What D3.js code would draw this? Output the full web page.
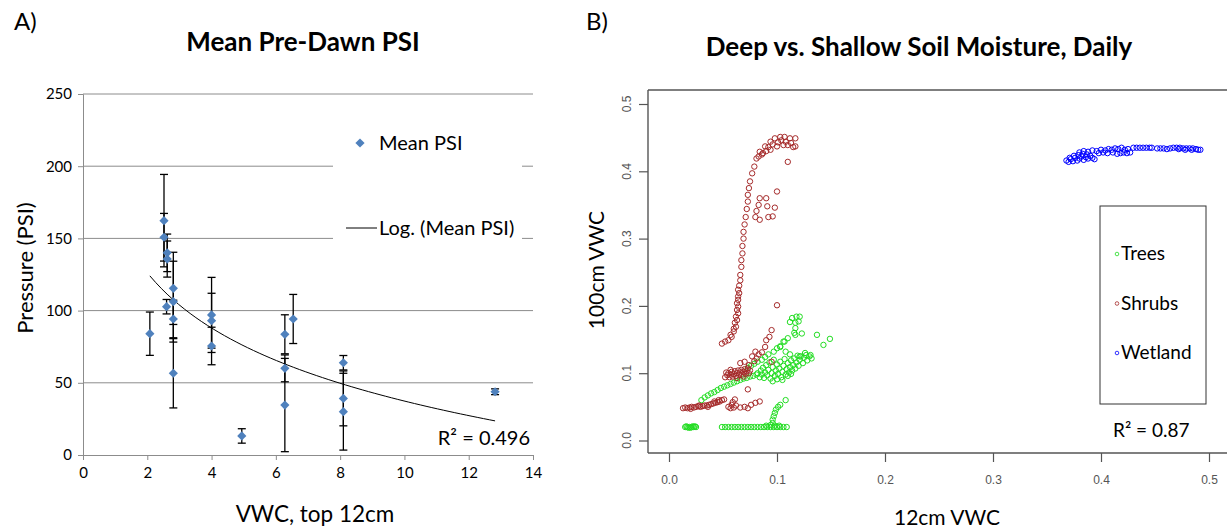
<!DOCTYPE html>
<html>
<head>
<meta charset="utf-8">
<script src="https://cdnjs.cloudflare.com/ajax/libs/d3/7.8.5/d3.min.js"></script>
<style>
  body { margin: 0; background: #fff; }
  svg { display: block; }
  text { font-family: Lato, "Open Sans", sans-serif; fill: #000; }
  .rtick { font-family: "Liberation Sans", Arial, sans-serif; fill: #555; }
</style>
</head>
<body>
<div id="chart"></div>
<script>
// ---------- panel A: mean pre-dawn PSI vs top 12cm VWC
let psiVWC  = [2.08, 2.52, 2.52, 2.62, 2.62, 2.60, 2.81, 2.81, 2.81, 2.81, 4.0, 4.0, 4.0, 4.94, 6.28, 6.28, 6.28, 6.54, 8.1, 8.1, 8.1, 12.82];
let psiMean = [84, 162.3, 150.8, 140, 135.7, 102.7, 115.4, 106.2, 94.2, 56.6, 97, 93, 75.5, 13.2, 83.6, 60, 34.6, 94.2, 63.9, 39.2, 30, 43.8];
let psiErr  = [15, 32, 16.5, 13, 12.5, 5, 25, 28, 13, 24, 26, 19, 13, 5, 13.5, 9.3, 32.3, 17, 5, 19, 26.6, 2];
let aXTicks = [0, 2, 4, 6, 8, 10, 12, 14];
let aYTicks = [0, 50, 100, 150, 200, 250];

// ---------- panel B: deep (100cm) vs shallow (12cm) VWC, daily
let trees = [
  // left blob
  [0.015,0.020],[0.017,0.020],[0.019,0.020],[0.021,0.020],[0.023,0.020],[0.025,0.020],[0.016,0.021],[0.020,0.019],[0.024,0.021],[0.018,0.019],[0.022,0.021],
  // flat run
  [0.049,0.020],[0.052,0.020],[0.055,0.020],[0.058,0.020],[0.061,0.020],[0.064,0.020],[0.067,0.020],[0.070,0.020],[0.073,0.020],[0.076,0.020],[0.079,0.020],
  [0.082,0.020],[0.085,0.020],[0.088,0.020],[0.091,0.020],[0.094,0.020],[0.097,0.020],[0.100,0.020],[0.103,0.020],[0.106,0.020],[0.109,0.020],
  [0.090,0.022],[0.094,0.023],[0.098,0.022],[0.102,0.022],
  // upturn
  [0.096,0.026],[0.096,0.031],[0.097,0.036],[0.098,0.041],[0.099,0.046],[0.101,0.050],[0.103,0.053],[0.108,0.060],
  // lower diagonal
  [0.030,0.060],[0.033,0.064],[0.036,0.067],[0.039,0.070],[0.042,0.072],[0.045,0.075],[0.048,0.078],[0.051,0.080],[0.054,0.082],
  [0.057,0.084],[0.060,0.086],[0.063,0.088],[0.066,0.090],[0.069,0.092],[0.072,0.093],[0.075,0.095],[0.078,0.096],[0.081,0.098],
  // upper string
  [0.073,0.108],[0.076,0.111],[0.079,0.114],[0.082,0.117],[0.086,0.120],[0.089,0.124],[0.092,0.128],[0.097,0.132],[0.100,0.137],
  [0.103,0.139],[0.106,0.147],[0.110,0.152],[0.117,0.157],
  // main cluster
  [0.082,0.100],[0.084,0.094],[0.085,0.104],[0.086,0.098],[0.087,0.108],[0.088,0.093],[0.089,0.101],[0.090,0.112],[0.091,0.097],
  [0.092,0.105],[0.093,0.116],[0.094,0.092],[0.095,0.100],[0.096,0.109],[0.097,0.120],[0.098,0.096],[0.099,0.104],[0.100,0.113],
  [0.101,0.099],[0.102,0.107],[0.103,0.117],[0.104,0.094],[0.105,0.102],[0.106,0.111],[0.107,0.121],[0.108,0.098],[0.109,0.106],
  [0.110,0.115],[0.111,0.101],[0.112,0.109],[0.113,0.119],[0.114,0.104],[0.115,0.112],[0.116,0.122],[0.117,0.107],[0.118,0.116],
  [0.119,0.126],[0.120,0.111],[0.121,0.120],[0.122,0.125],[0.124,0.115],[0.125,0.123],[0.127,0.127],[0.128,0.119],[0.130,0.125],
  [0.132,0.122],[0.096,0.088],[0.100,0.091],[0.105,0.090],[0.110,0.096],[0.113,0.099],
  // upper right
  [0.114,0.182],[0.118,0.184],[0.121,0.184],[0.117,0.175],[0.112,0.176],[0.120,0.177],[0.117,0.167],[0.123,0.159],[0.116,0.160],
  [0.137,0.157],[0.149,0.151],[0.143,0.142],[0.107,0.147],[0.103,0.140],[0.121,0.125],[0.131,0.127],[0.126,0.130],[0.108,0.132],[0.112,0.128]
];
let shrubs = [
  // lower band
  [0.013,0.048],[0.015,0.049],[0.017,0.048],[0.019,0.049],[0.021,0.050],[0.023,0.049],[0.025,0.050],[0.027,0.051],[0.029,0.050],
  [0.031,0.051],[0.033,0.052],[0.035,0.052],[0.037,0.053],[0.039,0.054],[0.041,0.055],[0.043,0.056],[0.045,0.057],[0.047,0.058],
  [0.049,0.060],[0.051,0.061],[0.020,0.047],[0.028,0.052],[0.036,0.050],[0.042,0.058],[0.046,0.060],
  // small group
  [0.055,0.050],[0.057,0.048],[0.058,0.053],[0.060,0.049],[0.062,0.052],[0.059,0.057],[0.061,0.061],[0.066,0.049],[0.070,0.050],
  [0.073,0.048],[0.076,0.053],[0.080,0.056],[0.084,0.058],[0.073,0.076],
  // dense cluster
  [0.052,0.094],[0.054,0.097],[0.055,0.100],[0.056,0.094],[0.057,0.098],[0.058,0.102],[0.059,0.095],[0.060,0.099],[0.061,0.103],
  [0.062,0.096],[0.063,0.100],[0.064,0.104],[0.065,0.097],[0.066,0.101],[0.067,0.105],[0.068,0.098],[0.069,0.102],[0.070,0.106],
  [0.071,0.099],[0.072,0.103],[0.073,0.107],[0.074,0.100],[0.075,0.104],[0.053,0.101],[0.057,0.105],[0.063,0.093],[0.069,0.095],
  // string up from cluster
  [0.066,0.115],[0.070,0.117],[0.074,0.112],[0.077,0.125],[0.079,0.118],[0.081,0.122],[0.080,0.132],[0.083,0.128],[0.086,0.131],
  [0.089,0.139],[0.090,0.149],[0.093,0.154],[0.095,0.164],[0.095,0.117],[0.100,0.201],
  // big rising curve
  [0.049,0.144],[0.052,0.147],[0.055,0.149],[0.057,0.157],[0.058,0.154],[0.060,0.162],[0.060,0.166],[0.061,0.175],[0.062,0.169],
  [0.062,0.184],[0.063,0.179],[0.063,0.194],[0.064,0.189],[0.064,0.199],[0.063,0.204],[0.064,0.209],[0.064,0.214],[0.065,0.219],
  [0.064,0.224],[0.065,0.230],[0.066,0.238],[0.066,0.246],[0.067,0.258],[0.067,0.268],[0.068,0.278],[0.068,0.289],[0.069,0.300],
  [0.069,0.310],[0.070,0.321],[0.071,0.332],[0.072,0.344],[0.073,0.355],[0.073,0.365],[0.074,0.375],[0.075,0.385],[0.077,0.397],
  [0.079,0.407],[0.081,0.419],[0.084,0.429],[0.089,0.437],[0.094,0.444],[0.098,0.449],[0.103,0.451],[0.107,0.451],[0.112,0.449],
  [0.117,0.449],[0.117,0.437],[0.110,0.439],[0.106,0.439],[0.100,0.437],[0.094,0.432],[0.087,0.427],[0.110,0.414],
  [0.083,0.422],[0.086,0.425],[0.090,0.430],[0.092,0.436],[0.096,0.440],[0.101,0.443],[0.104,0.446],[0.108,0.444],[0.113,0.442],[0.115,0.436],
  // scattered group
  [0.100,0.370],[0.084,0.360],[0.090,0.360],[0.083,0.350],[0.091,0.348],[0.098,0.346],[0.081,0.341],[0.080,0.332],[0.084,0.328],
  [0.096,0.333],[0.092,0.332]
];
let wetland = [
  [0.368,0.416],[0.370,0.414],[0.372,0.418],[0.374,0.415],[0.376,0.420],[0.378,0.416],[0.380,0.419],[0.382,0.422],[0.384,0.417],
  [0.386,0.421],[0.388,0.419],[0.390,0.423],[0.371,0.420],[0.375,0.423],[0.379,0.424],[0.383,0.426],[0.387,0.425],[0.392,0.420],[0.394,0.418],
  [0.380,0.428],[0.384,0.430],[0.388,0.429],[0.392,0.431],[0.396,0.430],[0.400,0.432],[0.404,0.431],[0.407,0.433],[0.410,0.432],
  [0.413,0.434],[0.416,0.433],[0.419,0.435],[0.422,0.432],[0.425,0.433],[0.398,0.427],[0.402,0.428],[0.406,0.427],[0.411,0.428],
  [0.415,0.426],[0.418,0.427],[0.421,0.428],[0.424,0.427],[0.427,0.428],
  [0.430,0.435],[0.433,0.435],[0.436,0.435],[0.439,0.435],[0.442,0.435],[0.445,0.435],[0.447,0.435],
  [0.452,0.434],[0.455,0.434],[0.458,0.434],[0.461,0.433],[0.464,0.434],[0.467,0.435],[0.470,0.435],[0.473,0.435],[0.476,0.434],
  [0.479,0.434],[0.482,0.434],[0.485,0.434],[0.488,0.433],[0.490,0.432],[0.492,0.432],[0.472,0.433],[0.478,0.432],[0.484,0.432]
];
let bTicks = [0, 0.1, 0.2, 0.3, 0.4, 0.5];
let bGroups = ["Trees", "Shrubs", "Wetland"];
let bColors = ["#22dd22", "#a52a2a", "#0000ff"];

let svg = d3.select("#chart").append("svg")
    .attr("width", 1227)
    .attr("height", 529);
svg.append("rect").attr("width", 1227).attr("height", 529).attr("fill", "#fff");

// ================= Panel A =================
let xA = d3.scaleLinear().domain([0, 14]).range([83, 533]);
let yA = d3.scaleLinear().domain([0, 250]).range([455, 94]);

// horizontal gridlines
svg.append("g").selectAll("line")
    .data(aYTicks.filter(d => d > 0))
    .join("line")
    .attr("x1", xA(0)).attr("x2", xA(14))
    .attr("y1", d => yA(d)).attr("y2", d => yA(d))
    .attr("stroke", "#8c8c8c");

let axA_y = svg.append("g")
    .attr("transform", `translate(${xA(0)},0)`)
    .call(d3.axisLeft(yA).tickValues(aYTicks).tickSize(5).tickPadding(6));
let axA_x = svg.append("g")
    .attr("transform", `translate(0,${yA(0)})`)
    .call(d3.axisBottom(xA).tickValues(aXTicks).tickSize(5).tickPadding(7));
[axA_y, axA_x].forEach(g => {
    g.select(".domain").attr("stroke", "#8c8c8c");
    g.selectAll(".tick line").attr("stroke", "#8c8c8c");
    g.selectAll("text").style("font-family", "Lato, sans-serif").style("font-size", "15px").attr("fill", "#404040");
});

// legend background hides the gridlines behind it
svg.append("rect").attr("x", 333).attr("y", 118).attr("width", 189).attr("height", 144).attr("fill", "#fff");

// log trend line, least squares on ln(x)
let lnX = psiVWC.map(Math.log);
let mL = d3.mean(lnX), mY = d3.mean(psiMean);
let slope = d3.sum(lnX, (l, i) => (l - mL) * (psiMean[i] - mY)) / d3.sum(lnX, l => (l - mL) * (l - mL));
let icpt = mY - slope * mL;
let xs = d3.range(61).map(i => d3.min(psiVWC) + i * (d3.max(psiVWC) - d3.min(psiVWC)) / 60);
svg.append("path")
    .datum(xs)
    .attr("fill", "none")
    .attr("stroke", "#000")
    .attr("stroke-width", 1)
    .attr("d", d3.line().x(d => xA(d)).y(d => yA(icpt + slope * Math.log(d))));

// error bars
let eb = svg.append("g").attr("stroke", "#000").attr("stroke-width", 1.3);
psiVWC.forEach((v, i) => {
    let lo = yA(psiMean[i] - psiErr[i]), hi = yA(psiMean[i] + psiErr[i]), cx = xA(v);
    eb.append("line").attr("x1", cx).attr("x2", cx).attr("y1", lo).attr("y2", hi);
    eb.append("line").attr("x1", cx - 4).attr("x2", cx + 4).attr("y1", lo).attr("y2", lo);
    eb.append("line").attr("x1", cx - 4).attr("x2", cx + 4).attr("y1", hi).attr("y2", hi);
});

// diamonds
let diamond = "M0,-4.6L4.6,0L0,4.6L-4.6,0Z";
svg.append("g").selectAll("path")
    .data(psiVWC)
    .join("path")
    .attr("d", diamond)
    .attr("transform", (d, i) => `translate(${xA(d)},${yA(psiMean[i])})`)
    .attr("fill", "#4f81bd");

// legend
svg.append("path").attr("d", diamond).attr("transform", "translate(360,143)").attr("fill", "#4f81bd");
svg.append("text").attr("x", 379).attr("y", 150).style("font-size", "20px").text("Mean PSI");
svg.append("line").attr("x1", 346).attr("x2", 377).attr("y1", 228).attr("y2", 228).attr("stroke", "#000");
svg.append("text").attr("x", 379).attr("y", 235).style("font-size", "20px").text("Log. (Mean PSI)");
svg.append("text").attr("x", 530).attr("y", 445).attr("text-anchor", "end").style("font-size", "20px").text("R² = 0.496");

// titles
svg.append("text").attr("x", 14).attr("y", 30).style("font-size", "24px").text("A)");
svg.append("text").attr("x", 303).attr("y", 51).attr("text-anchor", "middle")
    .style("font-size", "26px").style("font-weight", "bold").text("Mean Pre-Dawn PSI");
svg.append("text").attr("transform", "translate(33,268) rotate(-90)").attr("text-anchor", "middle")
    .style("font-size", "22px").text("Pressure (PSI)");
svg.append("text").attr("x", 315).attr("y", 522).attr("text-anchor", "middle")
    .style("font-size", "22.5px").text("VWC, top 12cm");

// ================= Panel B =================
let xB = d3.scaleLinear().domain([0, 0.5]).range([669, 1209]);
let yB = d3.scaleLinear().domain([0, 0.5]).range([440.5, 104]);

// plot frame (right edge falls outside the picture)
let frame = svg.append("g").attr("stroke", "#555").attr("stroke-width", 1.4);
frame.append("line").attr("x1", 648).attr("x2", 648).attr("y1", 90).attr("y2", 453);
frame.append("line").attr("x1", 648).attr("x2", 1227).attr("y1", 453).attr("y2", 453);
frame.append("line").attr("x1", 648).attr("x2", 1227).attr("y1", 90).attr("y2", 90);

let axB_x = svg.append("g")
    .attr("transform", "translate(0,453)")
    .call(d3.axisBottom(xB).tickValues(bTicks).tickSize(9).tickPadding(13).tickFormat(d3.format(".1f")));
let axB_y = svg.append("g")
    .attr("transform", "translate(648,0)")
    .call(d3.axisLeft(yB).tickValues(bTicks).tickSize(9).tickFormat(""));
[axB_x, axB_y].forEach(g => {
    g.select(".domain").remove();
    g.selectAll(".tick line").attr("stroke", "#555").attr("stroke-width", 1.2);
});
axB_x.selectAll("text").attr("class", "rtick").style("font-size", "12px").attr("fill", "#555");
svg.append("g").selectAll("text")
    .data(bTicks)
    .join("text")
    .attr("class", "rtick")
    .attr("transform", d => `translate(631,${yB(d)}) rotate(-90)`)
    .attr("text-anchor", "middle")
    .style("font-size", "12px")
    .text(d3.format(".1f"));

// points
[trees, shrubs, wetland].forEach((pts, k) => {
    svg.append("g").selectAll("circle")
        .data(pts)
        .join("circle")
        .attr("cx", d => xB(d[0]))
        .attr("cy", d => yB(d[1]))
        .attr("r", 2.7)
        .attr("fill", "none")
        .attr("stroke", bColors[k])
        .attr("stroke-width", 1);
});

// legend
svg.append("rect").attr("x", 1100).attr("y", 206).attr("width", 106).attr("height", 198)
    .attr("fill", "#fff").attr("stroke", "#333").attr("stroke-width", 1);
bGroups.forEach((g, i) => {
    let ly = 253 + i * 49.5;
    svg.append("circle").attr("cx", 1117).attr("cy", ly + 1).attr("r", 1.8)
        .attr("fill", "none").attr("stroke", bColors[i]).attr("stroke-width", 0.8);
    svg.append("text").attr("x", 1121).attr("y", ly + 7).style("font-size", "19px").text(g);
});
svg.append("text").attr("x", 1113).attr("y", 437).style("font-size", "19px").text("R²  = 0.87");

// titles
svg.append("text").attr("x", 586).attr("y", 30).style("font-size", "24px").text("B)");
svg.append("text").attr("x", 919).attr("y", 56).attr("text-anchor", "middle")
    .style("font-size", "26px").style("font-weight", "bold").text("Deep vs. Shallow Soil Moisture, Daily");
svg.append("text").attr("transform", "translate(604,270) rotate(-90)").attr("text-anchor", "middle")
    .style("font-size", "21px").text("100cm VWC");
svg.append("text").attr("x", 947).attr("y", 525).attr("text-anchor", "middle")
    .style("font-size", "21px").text("12cm VWC");
</script>
</body>
</html>
